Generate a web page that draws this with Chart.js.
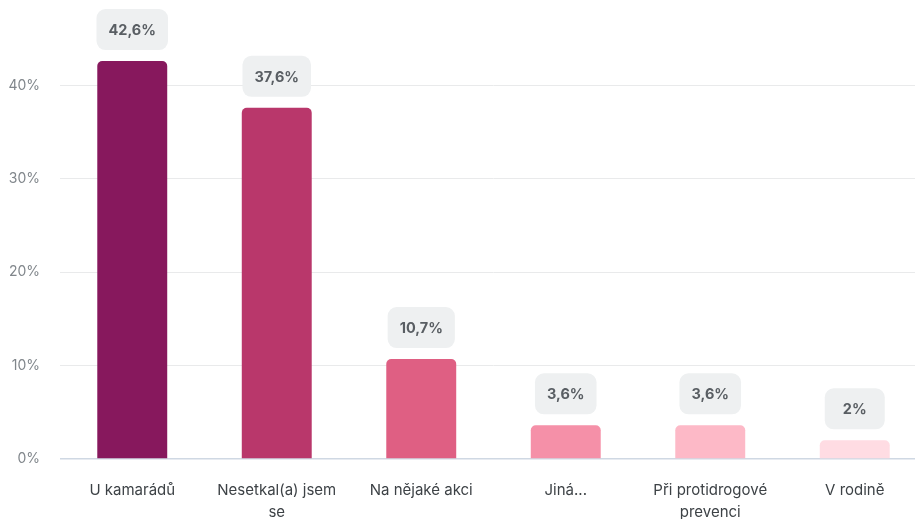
<!DOCTYPE html>
<html>
<head>
<meta charset="utf-8">
<script src="https://cdn.jsdelivr.net/npm/chart.js@4/dist/chart.umd.min.js"></script>
<style>
  html, body { margin: 0; padding: 0; background: #fff; overflow: hidden; }
  #wrap { width: 930px; height: 519px; overflow: hidden; }
</style>
</head>
<body>
<div id="wrap"><canvas id="chart" width="930" height="519"></canvas></div>
<script>
// data
const labels = ["U kamarádů", ["Nesetkal(a) jsem", "se"], "Na nějaké akci", "Jiná...", ["Při protidrogové", "prevenci"], "V rodině"];
const values = [42.6, 37.6, 10.7, 3.6, 3.6, 2];
const valueLabels = ["42,6%", "37,6%", "10,7%", "3,6%", "3,6%", "2%"];
const colors = ["#87185d", "#b9376b", "#df5f83", "#f590a8", "#fdb9c7", "#ffdce3"];
const yTicks = [0, 10, 20, 30, 40];

// grey rounded bubbles above the bars
const bubbles = {
  id: 'bubbles',
  afterDatasetsDraw(chart) {
    const ctx = chart.ctx;
    const meta = chart.getDatasetMeta(0);
    ctx.save();
    ctx.font = "bold 14.5px Inter";
    ctx.textAlign = "center";
    ctx.textBaseline = "middle";
    meta.data.forEach((bar, i) => {
      const txt = valueLabels[i];
      const w = Math.max(60, ctx.measureText(txt).width + 24);
      const h = 41;
      const x = bar.x - w / 2;
      const y = bar.y - 11 - h;
      ctx.fillStyle = "#eef0f1";
      ctx.beginPath();
      ctx.roundRect(x, y, w, h, 9);
      ctx.fill();
      ctx.fillStyle = "#595e63";
      ctx.fillText(txt, bar.x, y + h / 2 + 1);
    });
    ctx.restore();
  }
};

const ctx = document.getElementById('chart').getContext('2d');
var chart = new Chart(ctx, {
  type: 'bar',
  data: {
    labels: labels,
    datasets: [{
      data: values,
      backgroundColor: colors,
      borderRadius: { topLeft: 5, topRight: 5 },
      borderSkipped: 'bottom',
      categoryPercentage: 1,
      barPercentage: 0.484
    }]
  },
  options: {
    responsive: false,
    animation: false,
    devicePixelRatio: 1,
    layout: { padding: { top: 0, right: 3, bottom: 0, left: 0 } },
    plugins: {
      legend: { display: false },
      tooltip: { enabled: false }
    },
    scales: {
      x: {
        afterFit: s => { s.height = 60; },
        grid: { display: false, drawTicks: false },
        border: { display: false },
        ticks: {
          color: "#3d4246",
          font: { family: "Inter", size: 15, lineHeight: 1.47 },
          padding: 20,
          maxRotation: 0,
          autoSkip: false
        }
      },
      y: {
        min: 0,
        max: 46.1,
        afterBuildTicks: s => { s.ticks = yTicks.map(v => ({ value: v })); },
        afterFit: s => { s.width = 60; },
        border: { display: false },
        grid: {
          drawTicks: false,
          color: c => c.tick && c.tick.value === 0 ? "#cfd8e3" : "#e9eaeb",
          lineWidth: c => c.tick && c.tick.value === 0 ? 1.5 : 1
        },
        ticks: {
          color: "#80868b",
          font: { family: "Inter", size: 14 },
          padding: 20,
          callback: v => v + "%"
        }
      }
    }
  },
  plugins: [bubbles]
});
</script>
</body>
</html>
